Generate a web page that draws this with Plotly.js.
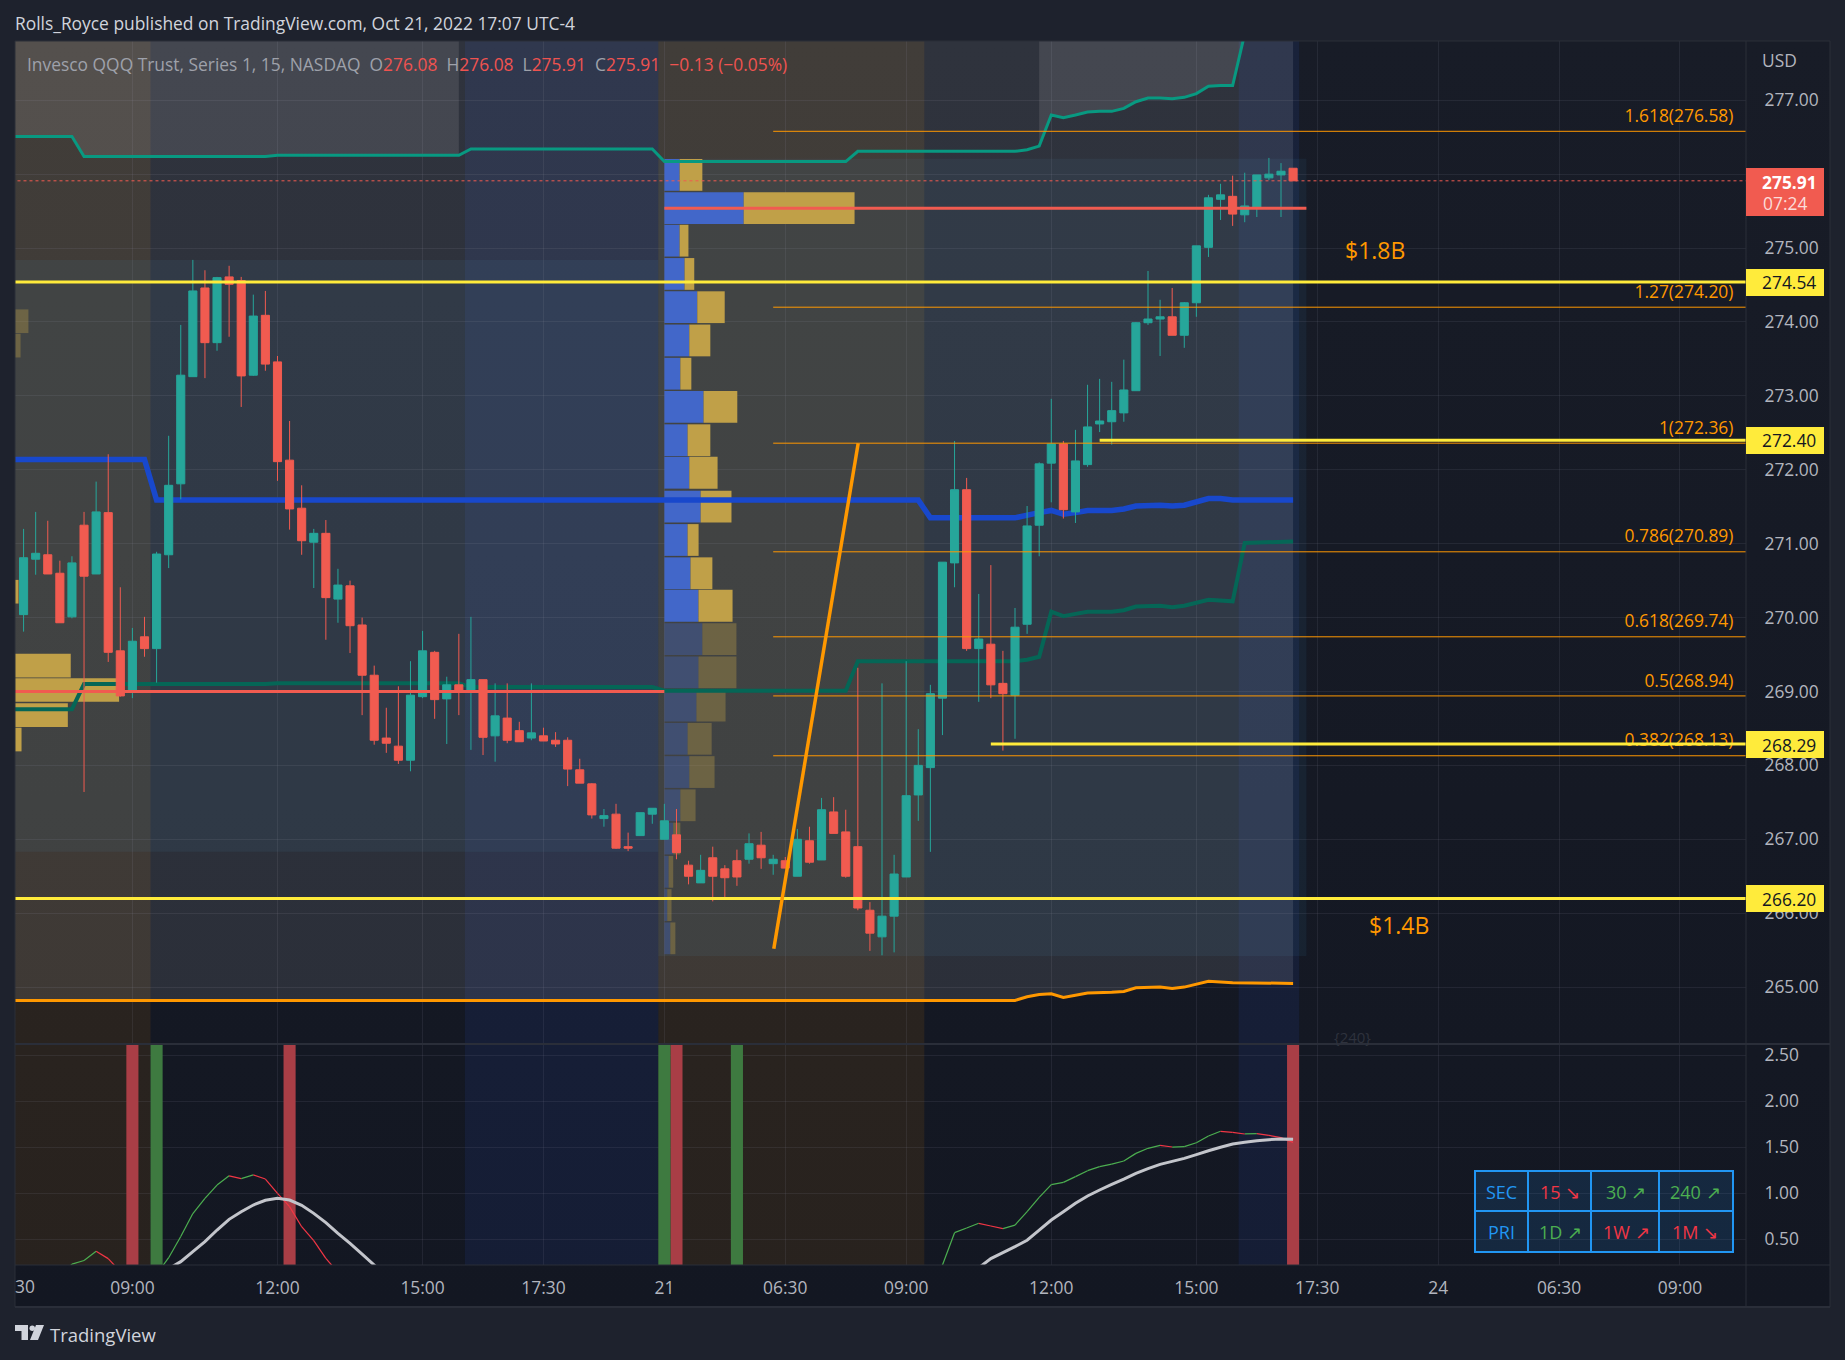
<!DOCTYPE html>
<html>
<head>
<meta charset="utf-8">
<script src="https://cdn.plot.ly/plotly-3.0.1.min.js"></script>
<style>
html,body{margin:0;padding:0;width:1845px;height:1360px;background:#1e222d;overflow:hidden}
#panel{position:absolute;left:15px;top:41px;width:1815px;height:1266px;background:linear-gradient(#181c27,#131722)}
#chart{position:absolute;left:0;top:0;width:1845px;height:1360px}
</style>
</head>
<body>
<div id="panel"></div>
<div id="chart"></div>
<script>
// ---------- candles (index 0 = 09:00 on Oct 20, one step = 15 minutes) ----------
const barIdx = [-9,-8,-7,-6,-5,-4,-3,-2,-1,0,1,2,3,4,5,6,7,8,9,10,11,12,13,14,15,16,17,18,19,20,21,22,23,24,25,26,27,28,29,30,31,32,33,34,35,36,37,38,39,40,41,42,43,44,45,46,47,48,49,50,51,52,53,54,55,56,57,58,59,60,61,62,63,64,65,66,67,68,69,70,71,72,73,74,75,76,77,78,79,80,81,82,83,84,85,86,87,88,89,90,91,92,93,94,95,96];
const opens = [270.04,270.79,270.85,270.60,270.01,271.25,270.59,271.42,269.55,268.99,269.74,269.58,270.85,271.81,273.26,274.46,273.72,274.61,274.56,273.28,274.09,273.46,272.13,271.48,271.02,271.14,270.25,270.43,269.90,269.22,268.37,268.26,268.07,268.93,269.53,268.90,269.09,269.02,269.16,268.40,268.64,268.47,268.37,268.40,268.34,268.34,267.94,267.75,267.28,267.34,266.90,267.05,267.34,267.00,267.06,266.65,266.41,266.75,266.60,266.71,266.73,266.92,266.67,266.71,266.50,266.98,266.72,267.37,267.10,266.90,266.04,265.68,265.96,266.49,267.60,267.97,268.91,270.74,271.73,269.58,269.64,269.11,268.95,269.91,271.25,272.09,272.35,271.43,272.07,272.62,272.65,272.77,273.07,273.99,274.04,274.07,273.82,274.26,275.01,275.66,275.70,275.45,275.55,275.95,275.99,276.08];
const highs = [271.20,271.43,271.31,270.77,270.83,271.43,271.84,272.21,270.41,269.86,270.01,270.89,272.46,273.96,274.84,274.70,274.61,274.76,274.61,274.37,274.42,273.54,272.66,271.79,271.20,271.32,270.66,270.50,270.00,269.35,268.78,269.07,269.41,269.82,269.55,269.20,269.78,270.01,269.16,269.11,269.11,268.59,269.11,268.51,268.45,268.38,268.09,267.76,267.41,267.48,267.09,267.36,267.42,267.48,267.41,266.71,266.79,266.90,266.65,266.86,267.08,267.10,266.79,266.76,267.14,267.17,267.56,267.57,267.40,269.32,266.15,269.11,266.79,269.41,268.49,269.09,270.75,272.39,271.89,270.32,270.71,269.55,270.13,271.51,272.10,272.96,272.39,272.54,273.15,273.23,273.19,273.49,274.00,274.69,274.30,274.46,274.27,275.03,275.72,275.87,275.98,276.02,275.99,276.22,276.15,276.08];
const lows = [269.81,270.58,270.59,269.93,269.99,267.64,270.59,269.40,268.93,268.91,269.47,269.12,270.67,271.60,273.26,273.24,273.61,273.80,272.85,273.27,273.34,271.85,271.19,270.85,270.40,269.70,269.93,269.52,268.68,268.28,268.17,268.02,267.92,268.91,268.63,268.29,268.68,268.21,268.14,268.05,268.30,268.32,268.34,268.33,268.25,267.72,267.76,267.28,267.17,266.87,266.84,267.05,267.21,267.00,266.73,266.39,266.41,266.16,266.22,266.37,266.67,266.60,266.52,266.61,266.50,266.67,266.72,267.08,266.48,266.04,265.49,265.43,265.47,266.49,267.25,266.83,268.41,270.41,269.55,268.86,268.91,268.20,268.36,269.78,270.83,271.56,271.34,271.28,272.04,272.51,272.34,272.65,273.07,273.96,273.54,273.82,273.65,274.07,274.88,275.38,275.30,275.35,275.42,275.92,275.42,275.91];
const closes = [270.81,270.87,270.59,269.93,270.74,270.56,271.43,269.53,268.94,269.68,269.58,270.86,271.79,273.28,274.42,273.72,274.60,274.51,273.27,274.08,273.43,272.11,271.47,271.04,271.14,270.27,270.44,269.89,269.22,268.34,268.30,268.07,268.95,269.55,268.89,269.09,269.00,269.16,268.38,268.67,268.34,268.32,268.44,268.33,268.29,267.95,267.76,267.33,267.32,266.88,266.88,267.36,267.42,267.25,266.82,266.50,266.58,266.50,266.48,266.49,266.94,266.75,266.73,266.61,267.00,266.69,267.40,267.08,266.50,266.07,265.73,265.96,266.53,267.59,268.00,268.97,270.75,271.73,269.58,269.71,269.09,268.97,269.87,271.24,272.08,272.35,271.46,272.12,272.58,272.66,272.80,273.08,273.99,274.04,274.07,273.82,274.26,275.03,275.68,275.72,275.46,275.57,275.99,276.00,276.04,275.91];

// ---------- indicator lines on the price pane ----------
const tealX = [-10,-5,-4,11,12,27,28,43,44,59,60,73,74,75,76,77,78,79,80,81,82,83,84,85,86,87,88,89,90,91,92,96];
const tealY = [276.51,276.51,276.24,276.24,276.255,276.255,276.34,276.34,276.17,276.17,276.31,276.31,276.33,276.38,276.80,276.765,276.80,276.84,276.85,276.85,276.89,276.98,277.03,277.03,277.02,277.04,277.09,277.19,277.20,277.20,277.90,277.92];
const greenX = [-10,-5,-4,11,12,27,28,43,44,59,60,73,74,75,76,77,78,79,81,82,83,85,86,87,89,91,92,96];
const greenY = [268.76,268.76,269.10,269.10,269.11,269.11,269.06,269.06,269.01,269.01,269.41,269.41,269.43,269.47,270.08,270.02,270.05,270.08,270.08,270.10,270.15,270.16,270.14,270.16,270.24,270.22,271.01,271.03];
const blueX = [-10,1,2,65,66,73,75,76,77,78,79,81,82,83,85,86,87,89,90,91,96];
const blueY = [272.14,272.14,271.59,271.59,271.35,271.35,271.42,271.45,271.40,271.42,271.45,271.45,271.47,271.51,271.52,271.51,271.52,271.61,271.61,271.59,271.59];
const orangeX = [-10,73,74,75,76,77,78,79,81,82,83,85,86,87,89,91,96];
const orangeY = [264.82,264.82,264.87,264.90,264.91,264.86,264.89,264.92,264.93,264.94,264.99,265.00,264.98,265.00,265.08,265.06,265.05];

// ---------- drawings ----------
const fibRatios = ['1.618','1.27','1','0.786','0.618','0.5','0.382'];
const fibLevels = [276.58,274.20,272.36,270.89,269.74,268.94,268.13];
const trendX = [53.05,60.03];
const trendY = [265.52,272.36];
const lastPrice = 275.91;
const pocLeft = 269.00;
const pocRight = 275.54;
const levelFull = [274.54,266.20];
const levelFrom = [[80,272.40],[71,268.29]];

// ---------- volume profile rows ----------
const volPrice = [275.99,275.54,275.10,274.65,274.20,273.75,273.30,272.85,272.40,271.96,271.50,271.05,270.60,270.16,269.71,269.26,268.81,268.36,267.91,267.46,267.01,266.56,266.11,265.66];
const volBlue = [1.26,6.56,1.26,1.67,2.72,2.06,1.32,3.24,1.92,2.06,3.00,1.92,2.16,2.82,3.14,2.82,2.65,1.92,2.06,1.32,0.73,0.35,0.24,0.49];
const volGold = [1.88,9.17,0.73,0.80,2.27,1.74,0.91,2.79,1.88,2.34,2.55,0.91,1.81,2.82,2.82,3.14,2.41,1.99,2.09,1.26,0.59,0.38,0.35,0.42];
const volOpacity = [1,1,1,1,1,1,1,1,1,1,1,1,1,1,0.35,0.35,0.35,0.35,0.35,0.35,0.35,0.35,0.35,0.35];
const leftVolPrice = [274.01,273.68,270.35,269.35,269.02,268.68,268.35];
const leftVolGold = [1.4,0.75,0.58,4.9,8.9,4.66,0.83];
const leftVolOpacity = [0.35,0.35,1,1,1,1,1];

// ---------- lower pane ----------
const oscX = [-6,-5,-4,-3,-2,-1,0,1,2,3,4,5,6,7,8,9,10,11,12,13,14,15,16,17,18,null,66,67,68,69,70,71,72,73,74,75,76,77,78,79,80,81,82,83,84,85,86,87,88,89,90,91,92,93,94,95,96];
const oscY = [0.10,0.23,0.27,0.37,0.29,0.15,0.05,0.0,0.12,0.30,0.53,0.78,0.945,1.09,1.19,1.16,1.20,1.155,1.0,0.855,0.637,0.485,0.293,0.14,0.0,null,0.10,0.22,0.572,0.623,0.674,0.645,0.616,0.655,0.80,0.956,1.094,1.119,1.181,1.246,1.29,1.318,1.351,1.434,1.489,1.521,1.503,1.507,1.55,1.623,1.674,1.663,1.645,1.648,1.63,1.605,1.554];
const sigX = [3,4,5,6,7,8,9,10,11,12,13,14,15,16,17,18,19,20,21,null,69,70,71,72,73,74,75,76,77,78,79,80,81,82,83,84,85,86,87,88,89,90,91,92,93,94,95,96];
const sigY = [0.18,0.257,0.366,0.474,0.601,0.717,0.80,0.873,0.924,0.945,0.927,0.869,0.782,0.681,0.565,0.456,0.34,0.22,0.10,null,0.12,0.19,0.29,0.355,0.42,0.49,0.60,0.71,0.80,0.891,0.971,1.036,1.097,1.155,1.217,1.268,1.315,1.347,1.38,1.42,1.463,1.50,1.536,1.554,1.572,1.583,1.59,1.587];
const stripRed = [0,13,45,96];
const stripGreen = [2,44,50];

// ---------- sessions and tick labels ----------
const preSessions = [[-10,1.5],[43.5,65.5]];
const postSessions = [[27.5,43.5],[91.5,96.5]];
const tickIdx = [0,12,24,34,44,54,64,76,88,98,108,118,128];
const tickText = ['09:00','12:00','15:00','17:30','21','06:30','09:00','12:00','15:00','17:30','24','06:30','09:00'];
const priceTicks = [265,266,267,268,269,270,271,272,273,274,275,276,277];
const priceTickText = ['265.00','266.00','267.00','268.00','269.00','270.00','271.00','272.00','273.00','274.00','275.00','','277.00'];
const oscTicks = [0.5,1,1.5,2,2.5];
const tableCols = [1501.7,1560,1626,1695];
const tableRow1 = ['SEC','15 ↘','30 ↗','240 ↗'];
const tableRow2 = ['PRI','1D ↗','1W ↗','1M ↘'];
const tableRow1Colors = ['#2196f3','#f23645','#4caf50','#4caf50'];
const tableRow2Colors = ['#2196f3','#4caf50','#f23645','#f23645'];

// ---------- geometry ----------
const W=1845,H=1360,PL=15,PR=1746,PT=41,PB=1265,SPLIT=1044;
const px=x=>(x-PL)/(PR-PL), py=y=>(PB-y)/(PB-PT);
const XR=[-9.71,133.46], YR=[264.23,277.802], OR=[0.2207,2.623];
const FONT='"Open Sans", sans-serif';
const RED='#f15b50',TEAL='#26a69a',YEL='#ffeb3b',ORG='#ff9800',GOLD='#c0a048',VBLUE='#4267c9';
const TOP=278.5;
const TS=17.4;

const line=(x,y,color,width,axis,extra={})=>Object.assign({type:'scatter',mode:'lines',x,y,xaxis:'x',yaxis:axis,hoverinfo:'skip',showlegend:false,line:{color,width,simplify:false}},extra);
const above=(xs,ys)=>({x:xs.concat(xs.slice().reverse()),y:ys.concat(xs.map(()=>TOP))});
const sliceBy=(test)=>{const k=tealX.map((v,i)=>test(v)?i:-1).filter(i=>i>=0);return above(k.map(i=>tealX[i]),k.map(i=>tealY[i]));};

const traces=[];
// base layer: translucent fills
traces.push(line(orangeX,orangeX.map(()=>TOP),'rgba(0,0,0,0)',0,'y'));
traces.push(line(orangeX,orangeY,'rgba(0,0,0,0)',0,'y',{fill:'tonexty',fillcolor:'rgba(255,255,255,0.10)'}));
const g1=sliceBy(v=>v<=27), g2=sliceBy(v=>v>=75);
traces.push({type:'scatter',mode:'none',x:g1.x,y:g1.y,xaxis:'x',yaxis:'y',fill:'toself',fillcolor:'rgba(255,255,255,0.10)',hoverinfo:'skip',showlegend:false});
traces.push({type:'scatter',mode:'none',x:g2.x,y:g2.y,xaxis:'x',yaxis:'y',fill:'toself',fillcolor:'rgba(255,255,255,0.10)',hoverinfo:'skip',showlegend:false});

// second layer: profile bars and indicator lines
const hbar=(x,base,y,color,op,width,axis)=>({type:'bar',orientation:'h',x,base,y,width,xaxis:'x',yaxis:axis,marker:{color,opacity:op,line:{width:0}},hoverinfo:'skip',showlegend:false});
traces.push(hbar(volBlue,volBlue.map(()=>44),volPrice,VBLUE,volOpacity,0.43,'y3'));
traces.push(hbar(volGold,volBlue.map(v=>44+v),volPrice,GOLD,volOpacity,0.43,'y3'));
traces.push(hbar(leftVolGold,leftVolGold.map(()=>-10),leftVolPrice,GOLD,leftVolOpacity,0.32,'y3'));
traces.push(line(tealX,tealY,'#089981',3,'y3'));
traces.push(line(greenX,greenY,'#056656',4,'y3'));
traces.push(line(blueX,blueY,'#1848cc',5.5,'y3'));
traces.push(line(orangeX,orangeY,ORG,3,'y3'));

// third layer: candles
traces.push({type:'candlestick',x:barIdx,open:opens,high:highs,low:lows,close:closes,xaxis:'x',yaxis:'y4',whiskerwidth:0,
  increasing:{line:{color:TEAL,width:1},fillcolor:TEAL},decreasing:{line:{color:RED,width:1},fillcolor:RED},hoverinfo:'skip',showlegend:false});

// top layer: drawings
traces.push(line([-10,134],[lastPrice,lastPrice],RED,1,'y5',{line:{color:RED,width:1,dash:'dot'}}));
fibLevels.forEach(l=>traces.push(line([53,134],[l,l],ORG,1,'y5')));
traces.push({type:'scatter',mode:'text',x:fibLevels.map(()=>132.42),y:fibLevels.map(l=>l+0.185),
  text:fibLevels.map((l,i)=>fibRatios[i]+'('+l.toFixed(2)+')'),textposition:'middle left',textfont:{family:FONT,size:TS,color:ORG},xaxis:'x',yaxis:'y5',hoverinfo:'skip',showlegend:false,cliponaxis:false});
traces.push(line([-10,44],[pocLeft,pocLeft],RED,3,'y5'));
traces.push(line([44,97.1],[pocRight,pocRight],RED,3,'y5'));
levelFull.forEach(l=>traces.push(line([-10,134],[l,l],YEL,3,'y5')));
levelFrom.forEach(p=>traces.push(line([p[0],134],[p[1],p[1]],YEL,3,'y5')));
traces.push(line(trendX,trendY,ORG,3.5,'y5'));

// lower pane
const vbar=(x,color)=>({type:'bar',x,y:x.map(()=>3),base:x.map(()=>0),width:1,xaxis:'x',yaxis:'y2',marker:{color,line:{width:0}},hoverinfo:'skip',showlegend:false});
traces.push(vbar(stripRed,'#a93e46'));
traces.push(vbar(stripGreen,'#3e7a40'));
const upX=[],upY=[],dnX=[],dnY=[];
for(let i=1;i<oscX.length;i++){
  if(oscX[i]===null||oscX[i-1]===null) continue;
  const tx=oscY[i]>=oscY[i-1]?upX:dnX, ty=oscY[i]>=oscY[i-1]?upY:dnY;
  tx.push(oscX[i-1],oscX[i],null); ty.push(oscY[i-1],oscY[i],null);
}
traces.push(line(upX,upY,'#4caf50',1.2,'y2'));
traces.push(line(dnX,dnY,'#f23645',1.2,'y2'));
traces.push(line(sigX,sigY,'#c3c5cb',3,'y2'));

// ---------- shapes ----------
const shapes=[];
preSessions.forEach(s=>shapes.push({type:'rect',layer:'below',xref:'x',yref:'paper',x0:s[0],x1:s[1],y0:0,y1:1,fillcolor:'rgba(255,152,0,0.09)',line:{width:0}}));
postSessions.forEach(s=>shapes.push({type:'rect',layer:'below',xref:'x',yref:'paper',x0:s[0],x1:s[1],y0:0,y1:1,fillcolor:'rgba(41,98,255,0.09)',line:{width:0}}));
shapes.push({type:'rect',layer:'below',xref:'x',yref:'y',x0:-10,x1:43.5,y0:266.83,y1:274.84,fillcolor:'rgba(60,150,200,0.08)',line:{width:0}});
shapes.push({type:'rect',layer:'below',xref:'x',yref:'y',x0:43.5,x1:97.1,y0:265.42,y1:276.21,fillcolor:'rgba(60,150,200,0.08)',line:{width:0}});
const rule=(x0,y0,x1,y1,w=1,c='#2a2e39')=>shapes.push({type:'line',layer:'above',xref:'paper',yref:'paper',x0:px(x0),x1:px(x1),y0:py(y0),y1:py(y1),line:{color:c,width:w}});
rule(15,41,1830,41); rule(15,41,15,1307); rule(1746,41,1746,1307); rule(1830,41,1830,1307);
rule(15,1044,1830,1044,2); rule(15,1265,1830,1265); rule(15,1307,1830,1307,2);
const tag=(x0,y0,x1,y1,c)=>shapes.push({type:'rect',layer:'above',xref:'paper',yref:'paper',x0:px(x0),x1:px(x1),y0:py(y0),y1:py(y1),fillcolor:c,line:{width:0}});
tag(1746,168,1824,216,RED);
tag(1746,269,1824,296,YEL); tag(1746,427,1824,454,YEL); tag(1746,731,1824,758,YEL); tag(1746,885,1824,912,YEL);
// info table
shapes.push({type:'rect',layer:'above',xref:'paper',yref:'paper',x0:px(1475),x1:px(1733),y0:py(1171),y1:py(1252),fillcolor:'rgba(33,150,243,0.14)',line:{color:'#2196f3',width:2}});
rule(1475,1211,1733,1211,2,'#2196f3');
[1528,1591,1659].forEach(x=>rule(x,1171,x,1252,2,'#2196f3'));
// logo
const P=(x,y)=>px(x)+','+py(y);
shapes.push({type:'path',layer:'above',xref:'paper',yref:'paper',fillcolor:'#d1d4dc',line:{width:0},
  path:'M'+P(15,1325)+'L'+P(28,1325)+'L'+P(28,1340)+'L'+P(21.5,1340)+'L'+P(21.5,1331)+'L'+P(15,1331)+'Z'});
shapes.push({type:'path',layer:'above',xref:'paper',yref:'paper',fillcolor:'#d1d4dc',line:{width:0},
  path:'M'+P(36,1325)+'L'+P(44,1325)+'L'+P(38,1340)+'L'+P(30,1340)+'Z'});
shapes.push({type:'circle',layer:'above',xref:'paper',yref:'paper',fillcolor:'#d1d4dc',line:{width:0},x0:px(29.5),x1:px(35),y0:py(1331),y1:py(1325.5)});

// ---------- text ----------
const ann=(x,y,text,color,size,xa='left',extra={})=>Object.assign({xref:'paper',yref:'paper',x:px(x),y:py(y),text,showarrow:false,xanchor:xa,yanchor:'middle',align:xa,font:{family:FONT,size,color},borderpad:0,borderwidth:0},extra);
const r=t=>'<span style="color:#ef5350">'+t+'</span>';
const annotations=[
  ann(15,22.5,'Rolls_Royce published on TradingView.com, Oct 21, 2022 17:07 UTC-4','#d1d4dc',TS),
  ann(27,64,'Invesco QQQ Trust, Series 1, 15, NASDAQ  O'+r('276.08')+'  H'+r('276.08')+'  L'+r('275.91')+'  C'+r('275.91')+'  '+r('−0.13 (−0.05%)'),'#9ea1aa',TS),
  ann(1762,60,'USD','#b2b5be',TS),
  ann(1789,182,'<b>275.91</b>','#ffffff',TS,'center'),
  ann(1785,202.7,'07:24','#fbdcd9',TS,'center'),
  ann(1789,282.5,'274.54','#131722',TS,'center'),
  ann(1789,440.5,'272.40','#131722',TS,'center'),
  ann(1789,744.5,'268.29','#131722',TS,'center'),
  ann(1789,898.5,'266.20','#131722',TS,'center'),
  ann(1345,250,'$1.8B',ORG,23),
  ann(1369,925,'$1.4B',ORG,23),
  ann(1334,1037,'{240}','#2e323d',15),
  ann(15,1286,'30','#b2b5be',TS),
  ann(50,1334,'TradingView','#d1d4dc',18.5),
];
tableCols.forEach((x,i)=>{
  annotations.push(ann(x,1191.7,tableRow1[i],tableRow1Colors[i],18,'center'));
  annotations.push(ann(x,1231.7,tableRow2[i],tableRow2Colors[i],18,'center'));
});

// ---------- layout ----------
const tickFont={family:FONT,size:TS,color:'#b2b5be'};
const GRID='rgba(125,130,150,0.14)';
const splitPos=(PB-SPLIT)/(PB-PT);
const hidden=(over)=>({overlaying:over,range:YR,domain:[splitPos,1],visible:false,fixedrange:true,anchor:'x'});
const layout={
  width:W,height:H,
  margin:{l:PL,r:W-PR,t:PT,b:H-PB,pad:0,autoexpand:false},
  paper_bgcolor:'rgba(0,0,0,0)',plot_bgcolor:'rgba(0,0,0,0)',
  showlegend:false,dragmode:false,barmode:'overlay',boxgap:0.33,boxgroupgap:0,hovermode:false,
  xaxis:{range:XR,anchor:'y2',domain:[0,1],fixedrange:true,tickmode:'array',tickvals:tickIdx,ticktext:tickText,
    showgrid:true,gridcolor:GRID,gridwidth:1,zeroline:false,showline:false,ticks:'outside',ticklen:7.5,tickcolor:'rgba(0,0,0,0)',
    tickfont:tickFont,tickangle:0,rangeslider:{visible:false},automargin:false},
  yaxis:{range:YR,domain:[splitPos,1],anchor:'x',side:'right',fixedrange:true,tickmode:'array',tickvals:priceTicks,ticktext:priceTickText,ticklabelshift:-1.2,
    showgrid:true,gridcolor:GRID,gridwidth:1,zeroline:false,showline:false,ticks:'outside',ticklen:14,tickcolor:'rgba(0,0,0,0)',tickfont:tickFont,automargin:false},
  yaxis2:{range:OR,domain:[0,splitPos],anchor:'x',side:'right',fixedrange:true,tickmode:'array',tickvals:oscTicks,ticklabelshift:-1.2,
    tickformat:'.2f',showgrid:true,gridcolor:GRID,gridwidth:1,zeroline:false,showline:false,ticks:'outside',ticklen:14,tickcolor:'rgba(0,0,0,0)',tickfont:tickFont,automargin:false},
  yaxis3:hidden('y'),yaxis4:hidden('y'),yaxis5:hidden('y'),
  shapes,annotations
};
Plotly.newPlot('chart',traces,layout,{displayModeBar:false,staticPlot:true,responsive:false});
</script>
</body>
</html>
